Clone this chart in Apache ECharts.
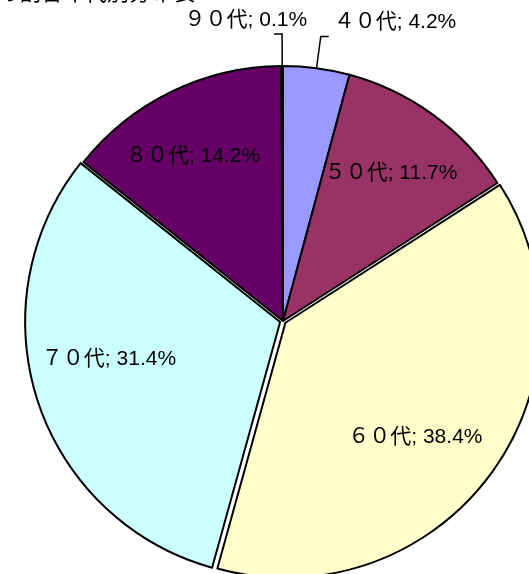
<!DOCTYPE html>
<html><head><meta charset="utf-8">
<script src="https://cdn.jsdelivr.net/npm/echarts@6/dist/echarts.min.js"></script>
<style>html,body{margin:0;padding:0;background:#fff}#c{width:529px;height:574px}</style>
</head><body><div id="c"></div>
<script>
const titleText = 'の割合年代別分布表';
const categories = ['４０代', '５０代', '６０代', '７０代', '８０代', '９０代'];
const values = [4.2, 11.7, 38.4, 31.4, 14.2, 0.1];
const colors = ['#9999FF', '#993366', '#FFFFCC', '#CCFFFF', '#660066', '#FF8080'];
const outsideLabels = ['４０代', '９０代'];
const explodedSlices = ['６０代', '７０代'];

const font = '"Liberation Sans", "Noto Sans CJK JP", sans-serif';
const labelStyle = { color: '#000', fontSize: 21, fontFamily: font, formatter: '{b}; {c}%' };

const mainData = categories.map((name, i) => ({
  name, value: values[i],
  selected: explodedSlices.includes(name),
  itemStyle: { color: colors[i] },
  label: outsideLabels.includes(name) ? { show: true } : { show: false },
  labelLine: { show: outsideLabels.includes(name) }
}));
const overlayData = categories.map((name, i) => ({
  name, value: values[i],
  label: { show: !outsideLabels.includes(name) }
}));

const chart = echarts.init(document.getElementById('c'));
chart.setOption({
  animation: false,
  title: { text: titleText, left: -8, top: -24, textStyle: { fontSize: 22, fontWeight: 'normal', color: '#000', fontFamily: '"Noto Sans CJK JP", sans-serif' } },
  series: [
    {
      type: 'pie', center: [283, 321], radius: 255, startAngle: 90, clockwise: true,
      avoidLabelOverlap: false, selectedMode: 'multiple', selectedOffset: 3,
      itemStyle: { borderColor: '#000', borderWidth: 2 },
      select: { itemStyle: { borderColor: '#000', borderWidth: 2 } },
      emphasis: { disabled: true },
      label: Object.assign({ position: 'outside' }, labelStyle),
      labelLine: { length: 32, length2: 8, smooth: false, lineStyle: { color: '#000', width: 1.5 } },
      labelLayout: function (p) {
        if (p.dataIndex === 5) return { dx: 38, dy: -14 };
        if (p.dataIndex === 0) return { dy: -14 };
        return {};
      },
      data: mainData
    },
    {
      type: 'pie', center: [283, 321], radius: [105, 255], startAngle: 90, clockwise: true,
      silent: true, avoidLabelOverlap: false,
      itemStyle: { color: 'rgba(0,0,0,0)', borderWidth: 0 },
      label: Object.assign({ position: 'inside' }, labelStyle),
      labelLine: { show: false },
      labelLayout: function (p) {
        if (p.dataIndex === 2) return { dx: -15, dy: 8 };
        if (p.dataIndex === 3) return { dy: -18 };
        if (p.dataIndex === 4) return { dx: -10 };
        return {};
      },
      data: overlayData
    }
  ]
});
</script></body></html>
